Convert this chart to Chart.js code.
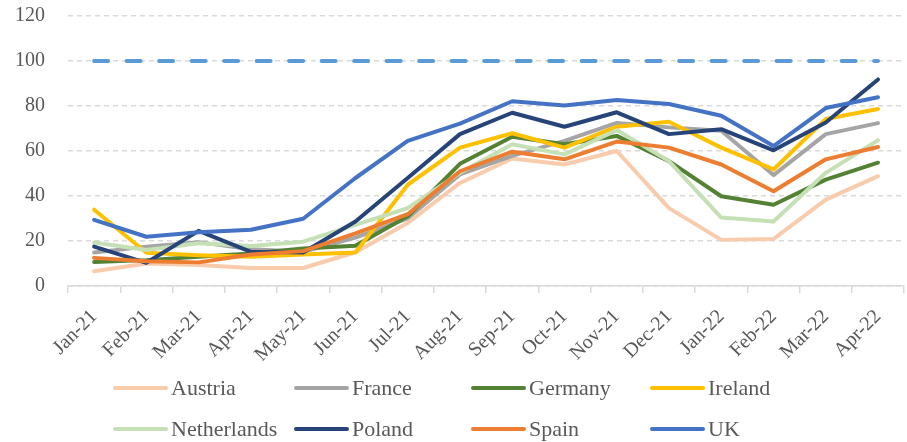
<!DOCTYPE html>
<html>
<head>
<meta charset="utf-8">
<script src="https://cdn.jsdelivr.net/npm/chart.js@4/dist/chart.umd.min.js"></script>
<style>
  html, body { margin: 0; padding: 0; background: #fff; }
</style>
</head>
<body>
<canvas id="chart" width="907" height="442"></canvas>
<script>
const months = ['Jan-21', 'Feb-21', 'Mar-21', 'Apr-21', 'May-21', 'Jun-21', 'Jul-21', 'Aug-21',
                'Sep-21', 'Oct-21', 'Nov-21', 'Dec-21', 'Jan-22', 'Feb-22', 'Mar-22', 'Apr-22'];

const austria     = [6.6, 10, 9.3, 8, 8, 15, 28, 45.8, 56.7, 54, 60, 34.6, 20.5, 20.9, 38.4, 48.8];
const france      = [14.9, 17.5, 19.5, 16.3, 15.2, 21.5, 30.1, 49.6, 57.8, 64.5, 72.5, 70.5, 69, 49.3, 67.5, 72.4];
const germany     = [10.7, 11.5, 13, 14.5, 16.7, 17.9, 31, 54.3, 66.3, 63, 66.7, 55.5, 39.9, 36.1, 47.3, 54.8];
const ireland     = [33.9, 14.8, 13.7, 13, 14, 14.9, 45, 61.5, 67.9, 61.5, 70.8, 73, 61.5, 51.8, 74.2, 78.7];
const netherlands = [19.3, 16, 19, 17.8, 19.7, 27.2, 34.6, 50.3, 63, 58.5, 69.3, 55.5, 30.4, 28.7, 50.3, 64.8];
const poland      = [17.5, 10.3, 24.5, 15.2, 14.9, 28.7, 48, 67.5, 77, 70.8, 77.2, 67.5, 69.7, 60.3, 72.7, 91.8];
const spain       = [12.5, 11, 10.5, 14, 15.5, 23.4, 31.9, 51, 59.7, 56.3, 64.2, 61.5, 54, 42.1, 56.3, 61.8];
const uk          = [29.4, 21.9, 23.9, 25, 29.9, 48, 64.5, 72.2, 82.1, 80.2, 82.7, 80.9, 75.7, 62.2, 79.1, 83.9];
const target      = [100, 100, 100, 100, 100, 100, 100, 100, 100, 100, 100, 100, 100, 100, 100, 100];

const yTicks = [0, 20, 40, 60, 80, 100, 120];

const countries = ['Austria', 'France', 'Germany', 'Ireland', 'Netherlands', 'Poland', 'Spain', 'UK'];
const seriesData = [austria, france, germany, ireland, netherlands, poland, spain, uk];
const colors = ['#F8CBAD', '#A5A5A5', '#548235', '#FFC000', '#C5E0B4', '#264478', '#ED7D31', '#4472C4'];

const FONT = "'Liberation Serif', 'DejaVu Serif', serif";
const TEXT = '#595959';
const GRID = '#D9D9D9';

const datasets = countries.map((name, i) => ({
    label: name,
    data: seriesData[i],
    borderColor: colors[i],
    backgroundColor: colors[i],
    borderWidth: 4,
    pointRadius: 0,
    tension: 0,
    borderJoinStyle: 'round',
    borderCapStyle: 'round',
    order: 20 - i // later series drawn on top
}));

datasets.push({
    label: 'target',
    data: target,
    borderColor: '#5B9BD5',
    borderWidth: 4,
    borderDash: [14, 18.5],
    borderCapStyle: 'round',
    pointRadius: 0,
    order: 1
});

// legend drawn in a fixed 4 x 2 grid, like the original
const gridLegend = {
    id: 'gridLegend',
    afterDraw(chart) {
        const ctx = chart.ctx;
        const colX = [113, 294, 471, 650];
        const rowY = [388, 429];
        ctx.save();
        ctx.font = '22px ' + FONT;
        ctx.textBaseline = 'middle';
        ctx.textAlign = 'left';
        countries.forEach((name, i) => {
            const x = colX[i % 4];
            const y = rowY[Math.floor(i / 4)];
            ctx.strokeStyle = colors[i];
            ctx.lineWidth = 4;
            ctx.lineCap = 'round';
            ctx.beginPath();
            ctx.moveTo(x + 2, y);
            ctx.lineTo(x + 53, y);
            ctx.stroke();
            ctx.fillStyle = TEXT;
            ctx.fillText(name, x + 58, y + 1);
        });
        ctx.restore();
    }
};

new Chart(document.getElementById('chart'), {
    type: 'line',
    data: { labels: months, datasets: datasets },
    options: {
        responsive: false,
        animation: false,
        layout: { padding: { top: 16, right: 0, bottom: 81, left: 0 } },
        plugins: {
            legend: { display: false },
            tooltip: { enabled: false }
        },
        scales: {
            x: {
                offset: true,
                grid: {
                    offset: true,
                    drawOnChartArea: false,
                    drawTicks: true,
                    tickLength: 7,
                    color: GRID,
                    lineWidth: 1.5
                },
                border: { display: true, color: GRID, width: 1.5 },
                ticks: {
                    autoSkip: false,
                    maxRotation: 45,
                    minRotation: 45,
                    padding: 12,
                    color: TEXT,
                    font: { family: FONT, size: 20 }
                },
                afterFit: s => { s.height = 75; }
            },
            y: {
                min: 0,
                max: 120,
                afterBuildTicks: s => { s.ticks = yTicks.map(v => ({ value: v })); },
                grid: {
                    drawTicks: true,
                    tickLength: 23,
                    tickColor: 'rgba(0,0,0,0)',
                    color: GRID,
                    lineWidth: 1.4
                },
                border: { display: false, dash: [5, 4] },
                ticks: {
                    padding: 0,
                    color: TEXT,
                    font: { family: FONT, size: 20 }
                },
                afterFit: s => { s.width = 68; }
            }
        }
    },
    plugins: [gridLegend]
});
</script>
</body>
</html>
